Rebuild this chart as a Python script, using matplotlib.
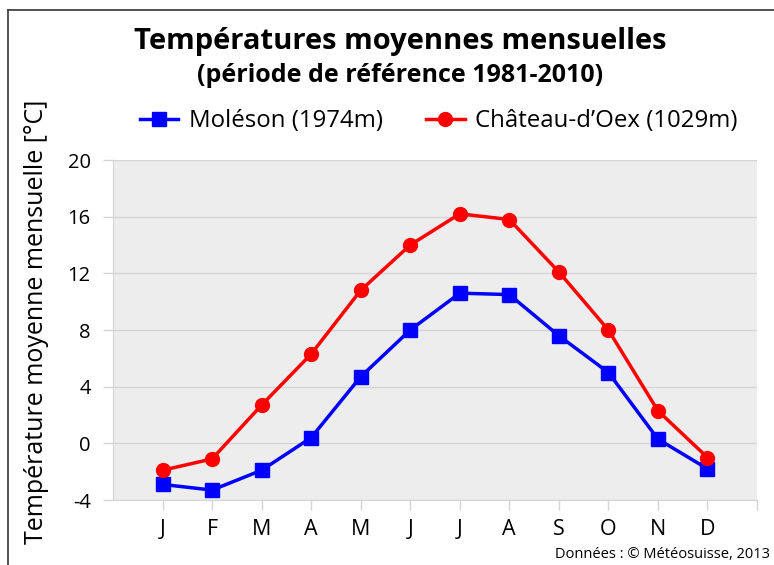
import matplotlib
matplotlib.use("Agg")
import matplotlib.pyplot as plt
from matplotlib.lines import Line2D

# Données
mois = ['J', 'F', 'M', 'A', 'M', 'J', 'J', 'A', 'S', 'O', 'N', 'D']
moleson = [-2.9, -3.3, -1.9, 0.4, 4.7, 8.0, 10.6, 10.5, 7.6, 5.0, 0.3, -1.8]
chateau_doex = [-1.9, -1.1, 2.7, 6.3, 10.8, 14.0, 16.2, 15.8, 12.1, 8.0, 2.3, -1.0]
yticks = [-4, 0, 4, 8, 12, 16, 20]

plt.rcParams['font.family'] = ['Open Sans', 'DejaVu Sans']

fig = plt.figure(figsize=(7.74, 5.65), dpi=100)
ax = fig.add_axes([113 / 774, 1 - 500 / 565, 644 / 774, 340 / 565])
ax.set_facecolor('#ededed')

x = list(range(1, len(mois) + 1))
ax.plot(x, moleson, color='#0000ff', lw=2.5, marker='s', ms=9.5,
        label='Moléson (1974m)', zorder=3)
ax.plot(x, chateau_doex, color='#ff0000', lw=2.5, marker='o', ms=10,
        label='Château-d\u2019Oex (1029m)', zorder=3)

ax.set_xlim(0, 13)
ax.set_ylim(-4, 20)
ax.set_yticks(yticks)
ax.set_yticklabels([str(v) for v in yticks], fontsize=14.5)
ax.set_xticks(range(1, 14))
ax.set_xticklabels(mois + [''], fontsize=15.5)
ax.tick_params(axis='both', color='#d4d4d4', length=7, width=1)
ax.tick_params(axis='y', pad=9)
ax.tick_params(axis='x', pad=7)
ax.grid(axis='y', color='#d4d4d4', lw=1)
ax.set_axisbelow(True)
for s in ['top', 'right']:
    ax.spines[s].set_visible(False)
for s in ['left', 'bottom']:
    ax.spines[s].set_color('#d4d4d4')

fig.text(37 / 774, 1 - 322 / 565, 'Température moyenne mensuelle [°C]',
         rotation=90, ha='center', va='center', fontsize=18)

fig.text(0.517, 1 - 42 / 565, 'Températures moyennes mensuelles',
         ha='center', va='center', fontsize=21, fontweight='bold')
fig.text(0.517, 1 - 75 / 565, '(période de référence 1981-2010)',
         ha='center', va='center', fontsize=18, fontweight='bold')

ax.legend(loc='center', bbox_to_anchor=(0.506, 1 + (160 - 121) / 340),
          ncol=2, frameon=False, fontsize=17.3, handlelength=1.6,
          columnspacing=1.8, handletextpad=0.45)

fig.text(0.995, 1 - 554 / 565, 'Données : © Météosuisse, 2013',
         ha='right', va='center', fontsize=10.5)

# cadre
fig.add_artist(Line2D([8 / 774, 1], [1 - 10 / 565] * 2, color='#333333', lw=1.2))
fig.add_artist(Line2D([8 / 774] * 2, [0, 1 - 10 / 565], color='#333333', lw=1.2))

fig.savefig('out.png', dpi=100)
